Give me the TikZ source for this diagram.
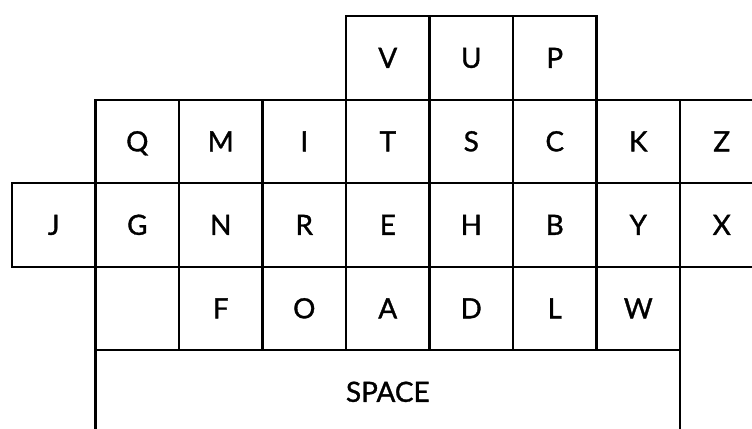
\documentclass[tikz,border=0pt]{standalone}
\usepackage{fontspec}
\setmainfont{Lato}[FakeBold=1.2]

\begin{document}
\begin{tikzpicture}[x=2cm,y=2cm,
  keybox/.style={draw,line width=1.4pt,minimum width=2cm,minimum height=2cm,
    inner sep=0pt,text height=13.7pt,text depth=0pt,font=\fontsize{19}{19}\selectfont}]
\useasboundingbox (-0.144,-0.934) rectangle (8.862,4.192);
\clip (-0.144,-0.934) rectangle (8.862,4.192);
% top row
\node[keybox] (kV) at (4.5,3.5) {V};
\node[keybox] (kU) at (5.5,3.5) {U};
\node[keybox] (kP) at (6.5,3.5) {P};
% second row
\node[keybox] (kQ) at (1.5,2.5) {Q};
\node[keybox] (kM) at (2.5,2.5) {M};
\node[keybox] (kI) at (3.5,2.5) {I};
\node[keybox] (kT) at (4.5,2.5) {T};
\node[keybox] (kS) at (5.5,2.5) {S};
\node[keybox] (kC) at (6.5,2.5) {C};
\node[keybox] (kK) at (7.5,2.5) {K};
\node[keybox] (kZ) at (8.5,2.5) {Z};
% third row
\node[keybox] (kJ) at (0.5,1.5) {J};
\node[keybox] (kG) at (1.5,1.5) {G};
\node[keybox] (kN) at (2.5,1.5) {N};
\node[keybox] (kR) at (3.5,1.5) {R};
\node[keybox] (kE) at (4.5,1.5) {E};
\node[keybox] (kH) at (5.5,1.5) {H};
\node[keybox] (kB) at (6.5,1.5) {B};
\node[keybox] (kY) at (7.5,1.5) {Y};
\node[keybox] (kX) at (8.5,1.5) {X};
% fourth row
\node[keybox] (kblank) at (1.5,0.5) {};
\node[keybox] (kF) at (2.5,0.5) {F};
\node[keybox] (kO) at (3.5,0.5) {O};
\node[keybox] (kA) at (4.5,0.5) {A};
\node[keybox] (kD) at (5.5,0.5) {D};
\node[keybox] (kL) at (6.5,0.5) {L};
\node[keybox] (kW) at (7.5,0.5) {W};
% space bar
\node[keybox,minimum width=14cm] (kspace) at (4.5,-0.5) {SPACE};
\end{tikzpicture}
\end{document}
